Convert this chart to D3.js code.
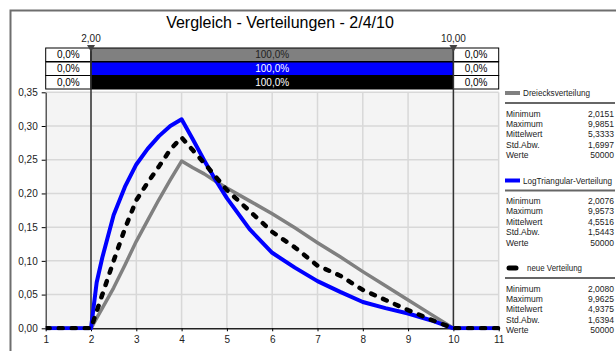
<!DOCTYPE html>
<html>
<head>
<meta charset="utf-8">
<script src="https://cdn.jsdelivr.net/npm/d3@7"></script>
<style>
  body { margin: 0; background: #fff; }
  svg { display: block; font-family: "Liberation Sans", Arial, sans-serif; }
</style>
</head>
<body>
<div id="chart"></div>
<script>
// x grid shared by all three density curves
const xs = [1, 2, 2.125, 2.25, 2.5, 2.75, 3, 3.25, 3.5, 3.75, 4, 4.25, 4.5, 4.75, 5, 5.5, 6, 6.5, 7, 7.5, 8, 8.5, 9, 9.5, 10, 11];
const dreieck = [0, 0, 0.015, 0.03, 0.06, 0.094, 0.129, 0.16, 0.191, 0.22, 0.248, 0.238, 0.229, 0.218, 0.208, 0.189, 0.17, 0.149, 0.127, 0.106, 0.084, 0.063, 0.042, 0.021, 0, 0];
const logTri = [0, 0, 0.068, 0.105, 0.168, 0.21, 0.243, 0.266, 0.285, 0.3, 0.31, 0.28, 0.249, 0.22, 0.193, 0.147, 0.112, 0.09, 0.07, 0.054, 0.039, 0.03, 0.022, 0.012, 0, 0];
const neue = [0, 0, 0.025, 0.05, 0.1, 0.148, 0.19, 0.216, 0.24, 0.265, 0.283, 0.264, 0.245, 0.225, 0.205, 0.174, 0.143, 0.12, 0.093, 0.078, 0.057, 0.042, 0.027, 0.013, 0, 0];

const seriesNames = ['Dreiecksverteilung', 'LogTriangular-Verteilung', 'neue Verteilung'];
const seriesColors = ['#808080', '#0000ff', '#000000'];
const markers = [2, 10];
const pctLeft = ['0,0%', '0,0%', '0,0%'];
const pctMid = ['100,0%', '100,0%', '100,0%'];
const pctRight = ['0,0%', '0,0%', '0,0%'];
const statLabels = ['Minimum', 'Maximum', 'Mittelwert', 'Std.Abw.', 'Werte'];
const stats = [
  ['2,0151', '9,9851', '5,3333', '1,6997', '50000'],
  ['2,0076', '9,9573', '4,5516', '1,5443', '50000'],
  ['2,0080', '9,9625', '4,9375', '1,6394', '50000'],
];
const yTicks = [0, 0.05, 0.1, 0.15, 0.2, 0.25, 0.3, 0.35];
const xTicks = [1, 2, 3, 4, 5, 6, 7, 8, 9, 10, 11];

const W = 616, H = 351;
const FONT = '"Liberation Sans", Arial, sans-serif';
const de = d3.formatLocale({ decimal: ',', thousands: '.', grouping: [3], currency: ['', '€'] });
const f2 = de.format('.2f');

const svg = d3.select('#chart').append('svg').attr('width', W).attr('height', H);

// outer frame
svg.append('path').attr('d', `M10.5,${H} V10.5 H${W}`)
  .attr('fill', 'none').attr('stroke', '#6e6e6e').attr('stroke-width', 2);

svg.append('text').attr('x', 280).attr('y', 28).attr('text-anchor', 'middle')
  .attr('font-size', 16).attr('fill', '#000').text('Vergleich - Verteilungen - 2/4/10');

const x = d3.scaleLinear().domain([1, 11]).range([45.7, 498.7]);
const y = d3.scaleLinear().domain([0, 0.35]).range([328.3, 92.3]);

// plot background + grid
svg.append('rect').attr('x', x(1)).attr('y', y(0.35)).attr('width', x(11) - x(1)).attr('height', y(0) - y(0.35))
  .attr('fill', '#f4f4f4');
svg.append('g').selectAll('line').data(xTicks.slice(1)).join('line')
  .attr('x1', d => x(d)).attr('x2', d => x(d)).attr('y1', y(0.35)).attr('y2', y(0))
  .attr('stroke', '#d8d8d8').attr('stroke-width', 1.5);
svg.append('g').selectAll('line').data(yTicks.slice(1)).join('line')
  .attr('x1', x(1)).attr('x2', x(11)).attr('y1', d => y(d)).attr('y2', d => y(d))
  .attr('stroke', '#d8d8d8').attr('stroke-width', 1.5);

// axes
const yAxis = svg.append('g').attr('transform', `translate(${x(1)},0)`)
  .call(d3.axisLeft(y).tickValues(yTicks).tickFormat(f2).tickSize(4).tickPadding(4).tickSizeOuter(0));
yAxis.select('.domain').attr('stroke', '#333').attr('stroke-width', 1.2);
yAxis.selectAll('text').attr('font-size', 10).attr('fill', '#222').attr('font-family', FONT);

const xAxis = svg.append('g').attr('transform', `translate(0,${y(0)})`)
  .call(d3.axisBottom(x).tickValues(xTicks).tickFormat(d3.format('d')).tickSize(3).tickSizeOuter(0));
xAxis.select('.domain').attr('stroke', '#222').attr('stroke-width', 1.5);
xAxis.selectAll('text').attr('font-size', 10).attr('fill', '#222').attr('dy', '0.85em').attr('font-family', FONT);

// percent boxes
const rowY = [48, 62, 75.5];
const rowH = 13.5;
const boxes = svg.append('g').attr('font-size', 10);
rowY.forEach((ry, i) => {
  boxes.append('rect').attr('x', x(1)).attr('y', ry).attr('width', x(markers[0]) - x(1)).attr('height', rowH)
    .attr('fill', '#fff').attr('stroke', '#000').attr('stroke-width', 1);
  boxes.append('rect').attr('x', x(markers[0])).attr('y', ry).attr('width', x(markers[1]) - x(markers[0])).attr('height', rowH)
    .attr('fill', seriesColors[i]).attr('stroke', '#000').attr('stroke-width', 1);
  boxes.append('rect').attr('x', x(markers[1])).attr('y', ry).attr('width', x(11) - x(markers[1])).attr('height', rowH)
    .attr('fill', '#fff').attr('stroke', '#000').attr('stroke-width', 1);
  const ty = ry + rowH / 2 + 3.6;
  boxes.append('text').attr('x', (x(1) + x(markers[0])) / 2).attr('y', ty).attr('text-anchor', 'middle')
    .attr('fill', '#000').text(pctLeft[i]);
  boxes.append('text').attr('x', (x(markers[0]) + x(markers[1])) / 2).attr('y', ty).attr('text-anchor', 'middle')
    .attr('fill', i === 0 ? '#222' : '#fff').text(pctMid[i]);
  boxes.append('text').attr('x', (x(markers[1]) + x(11)) / 2).attr('y', ty).attr('text-anchor', 'middle')
    .attr('fill', '#000').text(pctRight[i]);
});

// marker lines + triangles
const mk = svg.append('g');
mk.selectAll('line').data(markers).join('line')
  .attr('x1', d => x(d)).attr('x2', d => x(d)).attr('y1', 46).attr('y2', y(0))
  .attr('stroke', '#333').attr('stroke-width', 1.5);
mk.selectAll('path').data(markers).join('path')
  .attr('d', d => `M${x(d) - 4},45 L${x(d) + 4},45 L${x(d)},52 Z`)
  .attr('fill', '#444');
mk.selectAll('text').data(markers).join('text')
  .attr('x', d => x(d)).attr('y', 42).attr('text-anchor', 'middle')
  .attr('font-size', 10).attr('fill', '#222').text(d => f2(d));

// curves
svg.append('clipPath').attr('id', 'pc').append('rect')
  .attr('x', x(1)).attr('y', y(0.35)).attr('width', x(11) - x(1) + 2).attr('height', y(0) - y(0.35) + 2);
const line = d3.line().x(d => x(d[0])).y(d => y(d[1]));
const curves = svg.append('g').attr('clip-path', 'url(#pc)');
[dreieck, logTri, neue].forEach((vals, i) => {
  const p = curves.append('path').datum(xs.map((v, j) => [v, vals[j]]))
    .attr('d', line).attr('fill', 'none').attr('stroke', seriesColors[i])
    .attr('stroke-linejoin', 'round');
  if (i === 0) p.attr('stroke-width', 3.5);
  if (i === 1) p.attr('stroke-width', 4);
  if (i === 2) p.attr('stroke-width', 4.5).attr('stroke-dasharray', '4 9').attr('stroke-linecap', 'round');
});

// legend
const headerLen = [67, 89, 55];
const lg = svg.append('g').attr('font-size', 8.5).attr('fill', '#222');
seriesNames.forEach((name, i) => {
  const hy = 93 + i * 87.5;
  if (i === 2) {
    lg.append('line').attr('x1', 509).attr('x2', 516).attr('y1', hy).attr('y2', hy)
      .attr('stroke', '#000').attr('stroke-width', 5).attr('stroke-linecap', 'round');
  } else {
    lg.append('line').attr('x1', 505).attr('x2', 520).attr('y1', hy).attr('y2', hy)
      .attr('stroke', seriesColors[i]).attr('stroke-width', 4);
  }
  lg.append('text').attr('x', i === 2 ? 527 : 523).attr('y', hy + 3)
    .attr('textLength', headerLen[i]).attr('lengthAdjust', 'spacingAndGlyphs').text(name);
  lg.append('line').attr('x1', 505).attr('x2', 615).attr('y1', hy + 10).attr('y2', hy + 10)
    .attr('stroke', '#666').attr('stroke-width', 2);
  statLabels.forEach((lab, k) => {
    const ry = hy + 20.5 + k * 10.4 + 3;
    lg.append('text').attr('x', 506).attr('y', ry).text(lab);
    lg.append('text').attr('x', 614).attr('y', ry).attr('text-anchor', 'end').text(stats[i][k]);
  });
});
</script>
</body>
</html>
